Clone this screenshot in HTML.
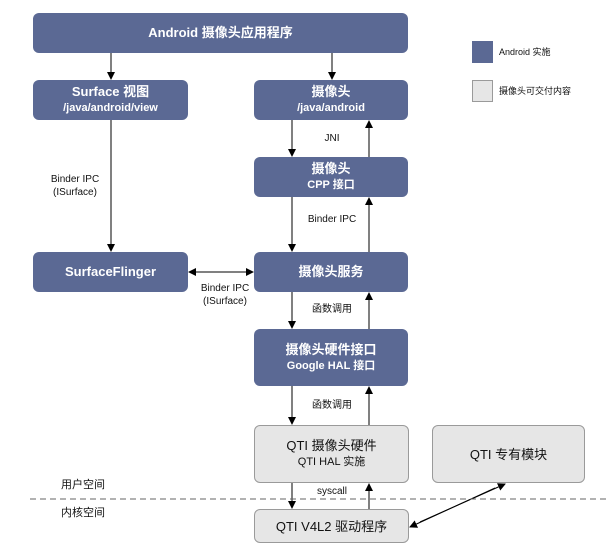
<!DOCTYPE html>
<html><head><meta charset="utf-8"><style>
body{margin:0;width:616px;height:556px;background:#fff;position:relative;font-family:"Liberation Sans","Noto Sans CJK SC",sans-serif;overflow:hidden}
.b{position:absolute;background:#5b6994;color:#fff;border-radius:6px;text-align:center;font-weight:bold;font-size:12px;display:flex;flex-direction:column;justify-content:center;line-height:16px}
.b small{font-size:11px}
.g{position:absolute;background:#e6e6e6;border:1px solid #9a9a9a;color:#111;border-radius:6px;text-align:center;font-size:12px;display:flex;flex-direction:column;justify-content:center;line-height:17px;box-sizing:border-box}
.t{position:absolute;font-size:10px;color:#111;text-align:center;line-height:13px}
svg{position:absolute;left:0;top:0}
</style></head><body>
<div class="b" style="left:33px;top:13px;width:375px;height:40px;font-size:13px">Android 摄像头应用程序</div>
<div class="b" style="left:33px;top:80px;width:155px;height:40px"><span style="font-size:13px">Surface 视图</span><small>/java/android/view</small></div>
<div class="b" style="left:254px;top:80px;width:154px;height:40px"><span style="font-size:13px">摄像头</span><small>/java/android</small></div>
<div class="b" style="left:254px;top:157px;width:154px;height:40px"><span style="font-size:13px">摄像头</span><small>CPP 接口</small></div>
<div class="b" style="left:33px;top:252px;width:155px;height:40px;font-size:13px">SurfaceFlinger</div>
<div class="b" style="left:254px;top:252px;width:154px;height:40px;font-size:13px">摄像头服务</div>
<div class="b" style="left:254px;top:329px;width:154px;height:57px"><span style="font-size:13px">摄像头硬件接口</span><small>Google HAL 接口</small></div>
<div class="g" style="left:254px;top:425px;width:155px;height:58px"><span style="font-size:13px">QTI 摄像头硬件</span><span style="font-size:11px">QTI HAL 实施</span></div>
<div class="g" style="left:432px;top:425px;width:153px;height:58px;font-size:13px">QTI 专有模块</div>
<div class="g" style="left:254px;top:509px;width:155px;height:34px;font-size:13px">QTI V4L2 驱动程序</div>
<div style="position:absolute;left:472px;top:41px;width:21px;height:22px;background:#5b6994"></div>
<div style="position:absolute;left:472px;top:80px;width:19px;height:20px;background:#e6e6e6;border:1px solid #9a9a9a"></div>
<div class="t" style="left:499px;top:46px;text-align:left;font-size:9px">Android 实施</div>
<div class="t" style="left:499px;top:85px;text-align:left;font-size:9px">摄像头可交付内容</div>
<div class="t" style="left:40px;top:173px;width:70px">Binder IPC<br>(ISurface)</div>
<div class="t" style="left:317px;top:132px;width:30px">JNI</div>
<div class="t" style="left:297px;top:213px;width:70px">Binder IPC</div>
<div class="t" style="left:190px;top:282px;width:70px">Binder IPC<br>(ISurface)</div>
<div class="t" style="left:297px;top:303px;width:70px">函数调用</div>
<div class="t" style="left:297px;top:399px;width:70px">函数调用</div>
<div class="t" style="left:297px;top:485px;width:70px">syscall</div>
<div class="t" style="left:61px;top:479px;font-size:11px;text-align:left">用户空间</div>
<div class="t" style="left:61px;top:507px;font-size:11px;text-align:left">内核空间</div>
<svg width="616" height="556">
<defs><marker id="a" markerWidth="8" markerHeight="8" refX="7" refY="4" orient="auto" markerUnits="userSpaceOnUse"><path d="M0,0L8,4L0,8z" fill="#000"/></marker></defs>
<g stroke="#000" stroke-width="1" fill="none">
<line x1="111" y1="53" x2="111" y2="79" marker-end="url(#a)"/>
<line x1="332" y1="53" x2="332" y2="79" marker-end="url(#a)"/>
<line x1="111" y1="120" x2="111" y2="251" marker-end="url(#a)"/>
<line x1="292" y1="120" x2="292" y2="156" marker-end="url(#a)"/>
<line x1="369" y1="157" x2="369" y2="121" marker-end="url(#a)"/>
<line x1="292" y1="197" x2="292" y2="251" marker-end="url(#a)"/>
<line x1="369" y1="252" x2="369" y2="198" marker-end="url(#a)"/>
<line x1="292" y1="292" x2="292" y2="328" marker-end="url(#a)"/>
<line x1="369" y1="329" x2="369" y2="293" marker-end="url(#a)"/>
<line x1="292" y1="386" x2="292" y2="424" marker-end="url(#a)"/>
<line x1="369" y1="425" x2="369" y2="387" marker-end="url(#a)"/>
<line x1="292" y1="483" x2="292" y2="508" marker-end="url(#a)"/>
<line x1="369" y1="509" x2="369" y2="484" marker-end="url(#a)"/>
<line x1="200" y1="272" x2="253" y2="272" marker-end="url(#a)"/>
<line x1="245" y1="272" x2="189" y2="272" marker-end="url(#a)"/>
<line x1="420" y1="522" x2="505" y2="484" marker-end="url(#a)"/>
<line x1="495" y1="488" x2="410" y2="527" marker-end="url(#a)"/>
<line x1="30" y1="499" x2="608" y2="499" stroke="#666" stroke-dasharray="6,4"/>
</g></svg>
</body></html>
